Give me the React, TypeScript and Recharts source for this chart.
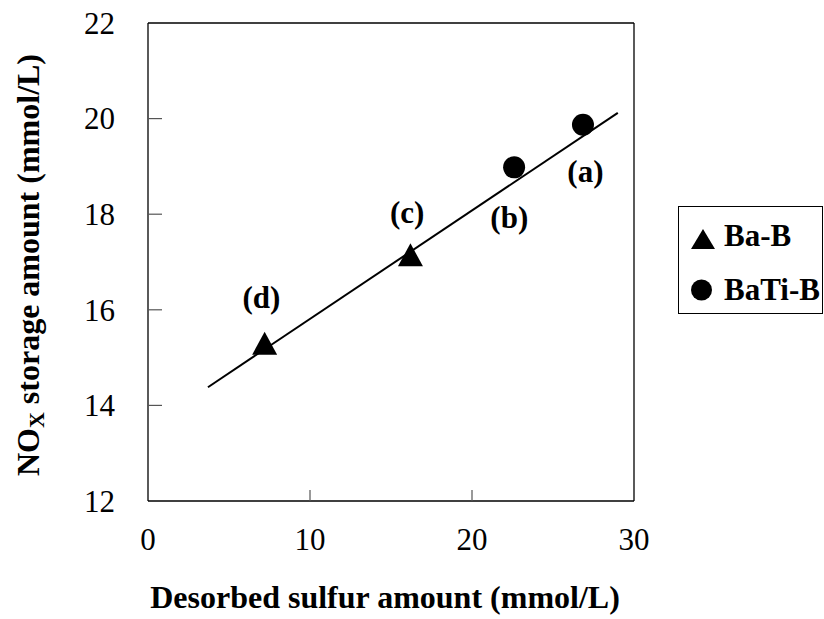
import { ComposedChart, Scatter, XAxis, YAxis, ReferenceLine, Legend } from 'recharts'

const FONT = 'Liberation Serif'

// measured points
const baB = [
  { x: 7.2, y: 15.3 },
  { x: 16.2, y: 17.15 },
]
const baTiB = [
  { x: 22.6, y: 18.98 },
  { x: 26.85, y: 19.87 },
]
// regression line ends
const fitLine = [
  { x: 3.7, y: 14.38 },
  { x: 29.0, y: 20.12 },
]
const pointLabels = [
  { x: 27.0, y: 18.9, text: '(a)' },
  { x: 22.3, y: 17.94, text: '(b)' },
  { x: 16.0, y: 18.05, text: '(c)' },
  { x: 7.0, y: 16.27, text: '(d)' },
]
const xTicks = [0, 10, 20, 30]
const yTicks = [12, 14, 16, 18, 20, 22]
const legendItems = [
  { name: 'Ba-B', marker: 'triangle' },
  { name: 'BaTi-B', marker: 'circle' },
]

const Triangle = ({ cx, cy }: any) => (
  <path d={`M${cx},${cy - 11.5} L${cx - 12.5},${cy + 11.5} L${cx + 12.5},${cy + 11.5} Z`} fill="#000" />
)
const Dot = ({ cx, cy }: any) => <circle cx={cx} cy={cy} r={11} fill="#000" />
const Nothing = () => <g />
const LabelText = ({ cx, cy, payload }: any) => (
  <text x={cx} y={cy} dy="0.35em" textAnchor="middle" fontFamily={FONT} fontWeight="bold" fontSize={31} fill="#000">
    {payload.text}
  </text>
)

const X_MARGIN = 27
const Y_MARGIN = 33

const XTick = ({ x, y, payload }: any) => {
  const axisY = y - X_MARGIN
  const inner = payload.value !== 0 && payload.value !== 30
  return (
    <g>
      {inner && <line x1={x} x2={x} y1={axisY} y2={axisY - 11} stroke="#555" strokeWidth={1.2} />}
      <text x={x} y={y} dy="0.71em" textAnchor="middle" fontFamily={FONT} fontSize={31} fill="#000">
        {payload.value}
      </text>
    </g>
  )
}

const YTick = ({ x, y, payload }: any) => {
  const axisX = x + Y_MARGIN
  const inner = payload.value !== 12 && payload.value !== 22
  return (
    <g>
      {inner && <line x1={axisX} x2={axisX + 14} y1={y} y2={y} stroke="#555" strokeWidth={1.2} />}
      <text x={x} y={y} dy="0.35em" textAnchor="end" fontFamily={FONT} fontSize={31} fill="#000">
        {payload.value}
      </text>
    </g>
  )
}

const YTitle = ({ viewBox }: any) => {
  const cy = viewBox.y + viewBox.height / 2 + 3
  return (
    <text
      x={39}
      y={cy}
      transform={`rotate(-90, 39, ${cy})`}
      textAnchor="middle"
      fontFamily={FONT}
      fontWeight="bold"
      fontSize={32}
      fill="#000"
    >
      NO<tspan fontSize={22} dy="5">X</tspan>
      <tspan dy="-5"> storage amount (mmol/L)</tspan>
    </text>
  )
}

const XTitle = ({ viewBox }: any) => (
  <text
    x={viewBox.x + viewBox.width / 2 - 6}
    y={608}
    textAnchor="middle"
    fontFamily={FONT}
    fontWeight="bold"
    fontSize={32}
    fill="#000"
  >
    Desorbed sulfur amount (mmol/L)
  </text>
)

const LegendBox = () => (
  <svg width={146} height={108} style={{ display: 'block' }}>
    <rect x={0.5} y={0.5} width={144} height={107} fill="#fff" stroke="#000" strokeWidth={1} />
    {legendItems.map((item, i) => {
      const mid = 33 + i * 51
      return (
        <g key={item.name}>
          {item.marker === 'triangle' ? (
            <path d={`M25,${mid - 10} L13,${mid + 10} L37,${mid + 10} Z`} fill="#000" />
          ) : (
            <circle cx={23.5} cy={mid} r={10.5} fill="#000" />
          )}
          <text x={46} y={mid + 7 + i * 3} fontFamily={FONT} fontWeight="bold" fontSize={31} fill="#000">
            {item.name}
          </text>
        </g>
      )
    })}
  </svg>
)

export default function App() {
  return (
    <div style={{ position: 'absolute', left: 0, top: 0, width: 824, height: 619, background: '#fff' }}>
      <ComposedChart width={824} height={619} margin={{ top: 23, right: 190, left: 88, bottom: 78 }}>
        <XAxis
          type="number"
          dataKey="x"
          domain={[0, 30]}
          ticks={xTicks}
          tickSize={0}
          tickMargin={X_MARGIN}
          tick={<XTick />}
          axisLine={{ stroke: '#000', strokeWidth: 1.3 }}
          height={40}
          label={<XTitle />}
        />
        <YAxis
          type="number"
          dataKey="y"
          domain={[12, 22]}
          ticks={yTicks}
          tickSize={0}
          tickMargin={Y_MARGIN}
          tick={<YTick />}
          axisLine={{ stroke: '#000', strokeWidth: 1.3 }}
          width={60}
          label={<YTitle />}
        />
        <ReferenceLine y={22} stroke="#000" strokeWidth={1.3} />
        <ReferenceLine x={30} stroke="#000" strokeWidth={1.3} />
        <Scatter
          name="fit"
          data={fitLine}
          line={{ stroke: '#000', strokeWidth: 2 }}
          shape={<Nothing />}
          legendType="none"
          isAnimationActive={false}
        />
        <Scatter name="Ba-B" data={baB} shape={<Triangle />} isAnimationActive={false} />
        <Scatter name="BaTi-B" data={baTiB} shape={<Dot />} isAnimationActive={false} />
        <Scatter name="labels" data={pointLabels} shape={<LabelText />} legendType="none" isAnimationActive={false} />
        <Legend
          layout="vertical"
          align="center"
          verticalAlign="middle"
          content={<LegendBox />}
          wrapperStyle={{ left: 678, top: 206, width: 146, height: 108 }}
        />
      </ComposedChart>
    </div>
  )
}
